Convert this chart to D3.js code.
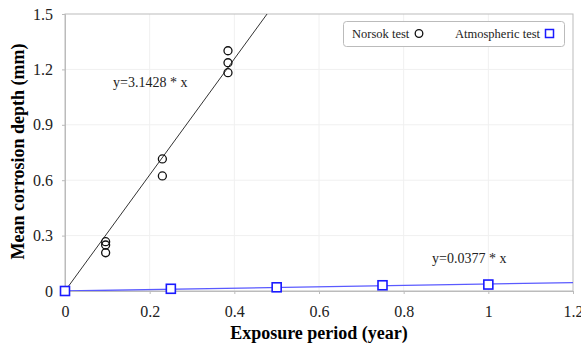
<!DOCTYPE html>
<html>
<head>
<meta charset="utf-8">
<script src="https://cdn.jsdelivr.net/npm/d3@7"></script>
<style>
  body { margin: 0; background: #fff; }
</style>
</head>
<body>
<script>
var width = 581,
    height = 347;
var FONT = "'Liberation Serif'";

// Data
var norsokX = [0.096, 0.096, 0.096, 0.23, 0.23, 0.385, 0.385, 0.385];
var norsokY = [0.267, 0.249, 0.207, 0.715, 0.623, 1.301, 1.236, 1.182];
var atmoX = [0, 0.25, 0.5, 0.75, 1.0];
var atmoY = [0, 0.012, 0.02, 0.031, 0.035];
var slopes = [3.1428, 0.0377];
var xTicks = [0, 0.2, 0.4, 0.6, 0.8, 1, 1.2];
var yTicks = [0, 0.3, 0.6, 0.9, 1.2, 1.5];

var margin = {left: 65, right: 8, top: 14, bottom: 56};

var x = d3.scaleLinear().domain([0, 1.2]).range([margin.left, width - margin.right]);
var y = d3.scaleLinear().domain([0, 1.5]).range([height - margin.bottom, margin.top]);

var svg = d3.select("body").append("svg")
    .attr("width", width)
    .attr("height", height)
    .style("font-family", FONT);

// grid
svg.append("g").selectAll("line")
  .data(xTicks.slice(1, -1))
  .enter().append("line")
  .attr("x1", function(d) { return x(d); }).attr("x2", function(d) { return x(d); })
  .attr("y1", y(0)).attr("y2", y(1.5))
  .attr("stroke", "#f0f0f0");
svg.append("g").selectAll("line")
  .data(yTicks.slice(1, -1))
  .enter().append("line")
  .attr("y1", function(d) { return y(d); }).attr("y2", function(d) { return y(d); })
  .attr("x1", x(0)).attr("x2", x(1.2))
  .attr("stroke", "#f0f0f0");

// frame
svg.append("rect")
  .attr("x", x(0)).attr("y", y(1.5))
  .attr("width", x(1.2) - x(0)).attr("height", y(0) - y(1.5))
  .attr("fill", "none").attr("stroke", "#bbb");

// axes
var xAxis = svg.append("g")
  .attr("transform", "translate(0," + y(0) + ")")
  .call(d3.axisBottom(x).tickValues(xTicks).tickSize(3).tickPadding(12)
    .tickFormat(function(d) { return d3.format("~g")(d); }));
var yAxis = svg.append("g")
  .attr("transform", "translate(" + x(0) + ",0)")
  .call(d3.axisLeft(y).tickValues(yTicks).tickSize(3).tickPadding(9)
    .tickFormat(function(d) { return d === 0 ? "0" : d3.format(".1f")(d); }));
[xAxis, yAxis].forEach(function(a) {
  a.attr("font-family", null).attr("font-size", null);
  a.select(".domain").attr("stroke", "#bbb");
  a.selectAll(".tick line").attr("stroke", "#bbb");
  a.selectAll(".tick text")
    .attr("fill", "#222")
    .style("font-family", FONT)
    .style("font-size", "16px");
});

// axis titles
svg.append("text")
  .attr("x", (x(0) + x(1.2)) / 2).attr("y", 339)
  .attr("text-anchor", "middle")
  .style("font-family", FONT)
  .style("font-size", "18px").style("font-weight", "bold")
  .text("Exposure period (year)");
svg.append("text")
  .attr("transform", "translate(24," + ((y(0) + y(1.5)) / 2 - 1) + ") rotate(-90)")
  .attr("text-anchor", "middle")
  .style("font-family", FONT)
  .style("font-size", "18px").style("font-weight", "bold")
  .text("Mean corrosion depth (mm)");

// fit lines
svg.append("clipPath").attr("id", "plot")
  .append("rect")
  .attr("x", x(0)).attr("y", y(1.5))
  .attr("width", x(1.2) - x(0)).attr("height", y(0) - y(1.5));

var line = d3.line().x(function(d) { return x(d[0]); }).y(function(d) { return y(d[1]); });
svg.append("path")
  .attr("clip-path", "url(#plot)")
  .attr("d", line([[0, 0], [1.5 / slopes[0], 1.5]]))
  .attr("stroke", "#333").attr("stroke-width", 1).attr("fill", "none");
svg.append("path")
  .attr("clip-path", "url(#plot)")
  .attr("d", line([[0, 0], [1.2, 1.2 * slopes[1]]]))
  .attr("stroke", "#5a5aff").attr("stroke-width", 1.3).attr("fill", "none");

// points
svg.append("g").selectAll("circle")
  .data(norsokX.map(function(d, i) { return [d, norsokY[i]]; }))
  .enter().append("circle")
  .attr("cx", function(d) { return x(d[0]); })
  .attr("cy", function(d) { return y(d[1]); })
  .attr("r", 4)
  .attr("fill", "none").attr("stroke", "#111").attr("stroke-width", 1.3);

svg.append("g").selectAll("rect")
  .data(atmoX.map(function(d, i) { return [d, atmoY[i]]; }))
  .enter().append("rect")
  .attr("x", function(d) { return x(d[0]) - 4.5; })
  .attr("y", function(d) { return y(d[1]) - 4.5; })
  .attr("width", 9).attr("height", 9)
  .attr("fill", "#fff").attr("stroke", "#1a1aff").attr("stroke-width", 1.6);

// equations
svg.append("text")
  .attr("x", 113).attr("y", 87)
  .style("font-family", FONT)
  .style("font-size", "14px").attr("fill", "#222")
  .text("y=" + slopes[0] + " * x");
svg.append("text")
  .attr("x", 432).attr("y", 263)
  .style("font-family", FONT)
  .style("font-size", "14px").attr("fill", "#222")
  .text("y=" + slopes[1] + " * x");

// legend
var lg = svg.append("g");
lg.append("rect")
  .attr("x", 343.5).attr("y", 21.5).attr("width", 221).attr("height", 25)
  .attr("rx", 3)
  .attr("fill", "#fff").attr("stroke", "#bbb");
lg.append("text").attr("x", 352).attr("y", 38)
  .style("font-family", FONT)
  .style("font-size", "12.5px").attr("fill", "#222").text("Norsok test");
lg.append("circle").attr("cx", 419).attr("cy", 33.5).attr("r", 3.8)
  .attr("fill", "none").attr("stroke", "#111").attr("stroke-width", 1.3);
lg.append("text").attr("x", 455).attr("y", 38)
  .style("font-family", FONT)
  .style("font-size", "12.5px").attr("fill", "#222").text("Atmospheric test");
lg.append("rect").attr("x", 545.5).attr("y", 29.5).attr("width", 8).attr("height", 8)
  .attr("fill", "#fff").attr("stroke", "#1a1aff").attr("stroke-width", 1.5);
</script>
</body>
</html>
